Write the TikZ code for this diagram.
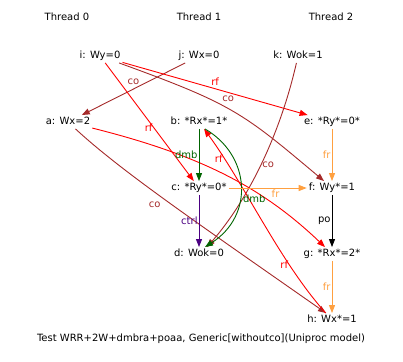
\documentclass[tikz,border=0pt]{standalone}
\usepackage{fontspec}
\setmainfont{DejaVu Sans}
\usetikzlibrary{arrows.meta}
\definecolor{cobrown}{RGB}{165,42,42}
\definecolor{dmbgreen}{RGB}{0,100,0}
\definecolor{ctrlindigo}{RGB}{75,0,130}
\definecolor{frorange}{RGB}{255,160,64}

\begin{document}
\begin{tikzpicture}[
    x=1pt, y=-1pt,
    node distance=66pt,
    font=\fontsize{10}{12}\selectfont,
    thr/.style={inner sep=1pt},
    ev/.style={inner sep=2pt, text height=7.5pt, text depth=2pt},
    lab/.style={inner sep=1pt},
    rel/.style={-{Triangle[length=8pt,width=6pt]}, line width=0.9pt},
    co/.style={rel, cobrown},
    rf/.style={rel, red},
    dmb/.style={rel, dmbgreen},
    ctrl/.style={rel, ctrlindigo},
    fr/.style={rel, frorange},
    po/.style={rel, black}
]
    \useasboundingbox (0,0) rectangle (403,361);

    \node[thr] (t0) at (67,17) {Thread 0};
    \node[thr, right of=t0, xshift=66pt] (t1) {Thread 1};
    \node[thr, right of=t1, xshift=66pt] (t2) {Thread 2};

    \node[ev] (j) at (199,56) {j: Wx=0};
    \node[ev, left of=j, xshift=-33pt] (i) {i: Wy=0};
    \node[ev, right of=j, xshift=33pt] (k) {k: Wok=1};
    \node[ev, below of=j] (b) {b: *Rx*=1*};
    \node[ev, left of=b, xshift=-65pt] (a) {a: Wx=2};
    \node[ev, right of=b, xshift=67pt] (e) {e: *Ry*=0*};
    \node[ev, below of=b] (c) {c: *Ry*=0*};
    \node[ev, below of=c] (d) {d: Wok=0};
    \node[ev, below of=e] (f) {f: Wy*=1};
    \node[ev, below of=f] (g) {g: *Rx*=2*};
    \node[ev, below of=g] (h) {h: Wx*=1};

    \node[thr] (title) at (201,339) {Test WRR+2W+dmbra+poaa, Generic[withoutco](Uniproc model)};

    \draw[co] (j) -- node[lab, above=3pt] {co} (a);
    \draw[rf] (i) -- node[lab, left, pos=0.55] {rf} (c);
    \draw[rf] (i) -- node[lab, above=2pt] {rf} (e);
    \draw[co] (i) .. controls (232,104) and (242,112) .. node[lab, above=6pt, pos=0.47] {co} ([xshift=-8pt]f.north);
    \draw[co] (k) .. controls (280,135) and (248,200) .. node[lab, right, pos=0.5] {co} ([xshift=8pt]d.north);
    \draw[rf] (a) .. controls (200,155) and (262,187) .. node[lab, above=8pt, pos=0.47] {rf} ([xshift=-7pt]g.north);
    \draw[co] (a) .. controls (120,170) and (190,218) .. node[lab, below=8pt, pos=0.45] {co} ([xshift=-6pt]h.north);
    \draw[rf] (h) .. controls (280,262) and (245,185) .. node[lab, left, pos=0.28] {rf} (b);
    \draw[dmb] (b) -- node[lab, left] {dmb} (c);
    \draw[dmb] ([xshift=6pt]b.south) .. controls (250,155) and (255,215) .. node[lab, right=2pt, pos=0.6] {dmb} ([xshift=6pt]d.north);
    \draw[ctrl] (c) -- node[lab, left] {ctrl} (d);
    \draw[fr] (c) -- node[lab, below, pos=0.6] {fr} (f);
    \draw[fr] (e) -- node[lab, left] {fr} (f);
    \draw[po] (f) -- node[lab, left] {po} (g);
    \draw[fr] (g) -- node[lab, left] {fr} (h);
\end{tikzpicture}
\end{document}
